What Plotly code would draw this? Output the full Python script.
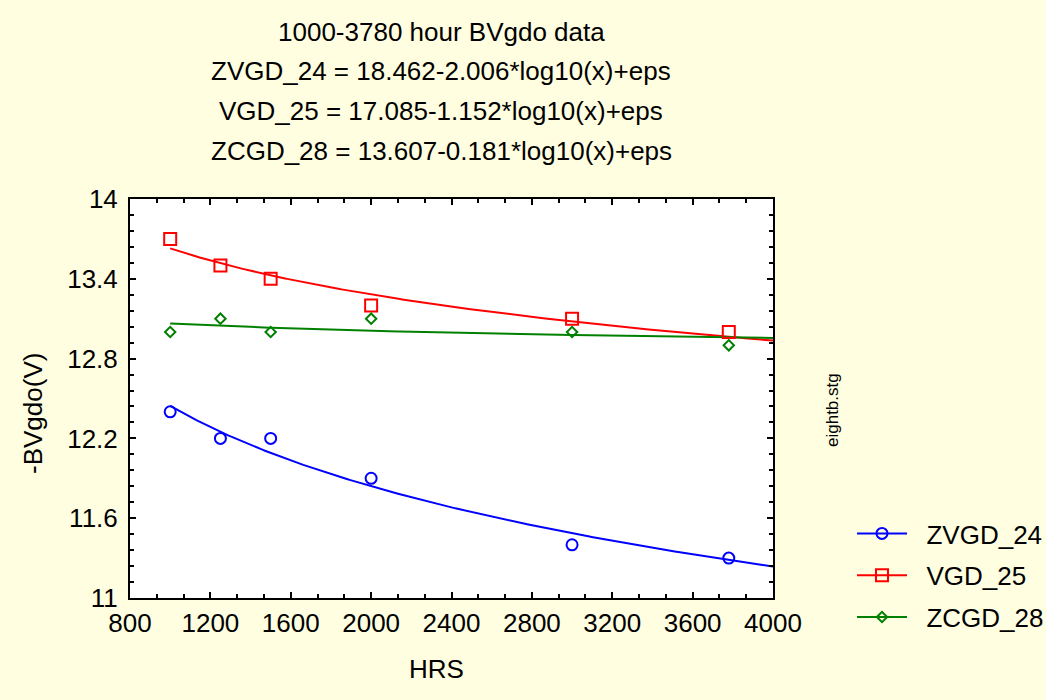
import numpy as np
import plotly.graph_objects as go

# ---- data ----
hours = [1000, 1250, 1500, 2000, 3000, 3780]
zvgd_24 = [12.40, 12.20, 12.20, 11.90, 11.40, 11.30]
vgd_25 = [13.70, 13.50, 13.40, 13.20, 13.10, 13.00]
zcgd_28 = [13.00, 13.10, 13.00, 13.10, 13.00, 12.90]

series_names = ["ZVGD_24", "VGD_25", "ZCGD_28"]
intercepts = [18.462, 17.085, 13.607]
slopes = [-2.006, -1.152, -0.181]
fit_range = [1000, 4000]

x_ticks = [800, 1200, 1600, 2000, 2400, 2800, 3200, 3600, 4000]
y_ticks = [11, 11.6, 12.2, 12.8, 13.4, 14]

title_lines = [
    "1000-3780 hour BVgdo data",
    "ZVGD_24 = 18.462-2.006*log10(x)+eps",
    "VGD_25 = 17.085-1.152*log10(x)+eps",
    "ZCGD_28 = 13.607-0.181*log10(x)+eps",
]
x_title = "HRS"
y_title = "-BVgdo(V)"
side_note = "eightb.stg"

colors = ["#0000FF", "#FF0000", "#008000"]
symbols = ["circle-open", "square-open", "diamond-open"]
sizes = [11, 12, 8]
values = [zvgd_24, vgd_25, zcgd_28]

FONT = "Arial, Liberation Sans, sans-serif"
BG = "#FFFEE0"
FS = 26

# plot area in pixels (for placing text annotations)
L, R, T, B = 130, 773, 199, 598


def px(xp):
    return (xp - L) / (R - L)


def py(yp):
    return (B - yp) / (B - T)


fig = go.Figure()

xfit = np.linspace(fit_range[0], fit_range[1], 300)
for name, a, b, c in zip(series_names, intercepts, slopes, colors):
    fig.add_trace(go.Scatter(x=xfit, y=a + b * np.log10(xfit), mode="lines",
                             line=dict(color=c, width=2), showlegend=False,
                             hoverinfo="skip"))

for name, vals, c, s, sz in zip(series_names, values, colors, symbols, sizes):
    fig.add_trace(go.Scatter(x=hours, y=vals, mode="markers", name=name,
                             marker=dict(symbol=s, size=sz, color=c,
                                         line=dict(color=c, width=2)),
                             showlegend=False))
    # legend entry
    fig.add_trace(go.Scatter(x=[None], y=[None], mode="lines+markers",
                             name="\u00a0\u00a0" + name, legendgroup=name,
                             line=dict(color=c, width=2),
                             marker=dict(symbol=s, size=sz, color=c,
                                         line=dict(color=c, width=2)),
                             showlegend=True))

axis_common = dict(
    showgrid=False, zeroline=False, showline=True, linecolor="black", linewidth=2,
    mirror="ticks", ticks="inside", ticklen=6, tickwidth=1.5, tickcolor="black",
    tickfont=dict(family=FONT, size=FS, color="black"),
)

fig.update_xaxes(range=[800, 4000], tickvals=x_ticks, ticktext=[str(v) for v in x_ticks],
                 minor=dict(ticks="inside", ticklen=4, tickwidth=1.5, tickcolor="black",
                            dtick=400 / 3, tick0=800, showgrid=False),
                 ticklabelstandoff=1,
                 **axis_common)
fig.update_yaxes(range=[11, 14], tickvals=y_ticks, ticktext=[f"{v:g}" for v in y_ticks],
                 minor=dict(ticks="inside", ticklen=4, tickwidth=1.5, tickcolor="black",
                            dtick=0.12, tick0=11, showgrid=False),
                 ticklabelstandoff=5,
                 **axis_common)

ann = []
title_y = [32, 71, 111, 151]
for t, yy in zip(title_lines, title_y):
    ann.append(dict(text=t, xref="paper", yref="paper", x=px(441), y=py(yy),
                    xanchor="center", yanchor="middle", showarrow=False,
                    font=dict(family=FONT, size=FS, color="black")))
ann.append(dict(text=x_title, xref="paper", yref="paper", x=px(436), y=py(669),
                xanchor="center", yanchor="middle", showarrow=False,
                font=dict(family=FONT, size=FS, color="black")))
ann.append(dict(text=y_title, xref="paper", yref="paper", x=px(33), y=py(414),
                xanchor="center", yanchor="middle", textangle=-90, showarrow=False,
                font=dict(family=FONT, size=FS, color="black")))
ann.append(dict(text=side_note, xref="paper", yref="paper", x=px(832), y=py(410),
                xanchor="center", yanchor="middle", textangle=-90, showarrow=False,
                font=dict(family=FONT, size=17, color="black")))

fig.update_layout(
    width=1046, height=700,
    margin=dict(l=L, r=1046 - R, t=T, b=700 - B, autoexpand=False),
    paper_bgcolor=BG, plot_bgcolor="white",
    font=dict(family=FONT, color="black"),
    annotations=ann,
    legend=dict(x=px(852), y=py(510), xanchor="left", yanchor="top",
                bgcolor="rgba(0,0,0,0)", font=dict(family=FONT, size=FS, color="black"),
                itemwidth=50, tracegroupgap=5, traceorder="grouped"),
)

fig.write_html("out.html")
